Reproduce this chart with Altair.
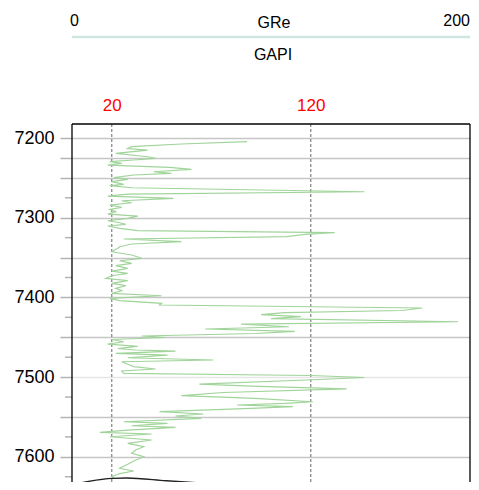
import altair as alt
import pandas as pd

# ---- data ----
depth = [7204.6, 7207.5, 7210.9, 7213.2, 7215.1, 7219.2, 7223.5, 7225.5, 7227.6, 7229.7,
         7231.7, 7233.9, 7236.8, 7239.3, 7242.3, 7244.3, 7246.4, 7249.8, 7251.8, 7254.8,
         7258.1, 7259.8, 7262.4, 7267.4, 7270.3, 7272.8, 7275.7, 7278.7, 7281.2, 7284.1,
         7286.9, 7289.5, 7292.5, 7295.4, 7297.9, 7300.8, 7303.8, 7306.3, 7308.3, 7310.4,
         7313.3, 7316.3, 7318.8, 7320.8, 7323.8, 7326.7, 7330.1, 7333.0, 7336.4, 7338.4,
         7342.7, 7346.8, 7350.9, 7354.0, 7357.2, 7360.2, 7363.5, 7366.9, 7369.8, 7372.8,
         7376.0, 7379.0, 7382.3, 7385.3, 7388.6, 7391.6, 7394.9, 7397.9, 7401.1, 7404.1,
         7407.4, 7409.5, 7413.3, 7416.4, 7419.2, 7421.5, 7424.0, 7426.5, 7430.5, 7433.4,
         7436.8, 7439.6, 7442.5, 7445.3, 7448.4, 7450.3, 7452.8, 7455.6, 7458.5, 7461.4,
         7464.1, 7466.0, 7467.3, 7470.1, 7472.3, 7475.7, 7478.5, 7480.7, 7483.9, 7486.9,
         7489.8, 7492.3, 7495.2, 7498.0, 7500.5, 7503.0, 7508.7, 7511.2, 7514.7, 7519.3,
         7523.1, 7526.6, 7530.9, 7532.9, 7535.0, 7537.1, 7539.1, 7543.4, 7546.3, 7548.8,
         7551.7, 7556.0, 7558.0, 7561.0, 7563.0, 7566.4, 7569.3, 7571.4, 7574.8, 7578.9,
         7583.1, 7587.3, 7591.5, 7595.6, 7599.9, 7605.3, 7609.4, 7614.4, 7617.8, 7621.0,
         7625.0, 7626.6]
gr = [88, 55, 30, 28, 38, 22, 38, 42, 31, 19,
      25, 18, 49, 60, 41, 50, 31, 21, 28, 20,
      26, 19, 30, 147, 28, 18, 51, 25, 30, 19,
      25, 19, 22, 18, 33, 28, 18, 24, 27, 18,
      24, 33, 132, 117, 108, 26, 55, 30, 24, 23,
      20, 30, 35, 24, 30, 22, 28, 20, 28, 20,
      17, 28, 20, 27, 22, 25, 20, 45, 19, 24,
      45, 44, 176, 166, 107, 95, 115, 100, 194, 85,
      109, 67, 112, 92, 35, 47, 20, 26, 18, 33,
      23, 32, 52, 22, 48, 28, 71, 25, 28, 31,
      42, 25, 26, 120, 147, 124, 64, 90, 138, 76,
      55, 92, 121, 107, 83, 111, 90, 44, 66, 52,
      65, 26, 48, 30, 52, 28, 14, 40, 19, 40,
      28, 36, 32, 30, 36, 31, 28, 24, 31, 24,
      20, 21]

arc_gr = [-4.5, 7.5, 20.4, 27.4, 47.3, 80.1, 102.0, 113.4]
arc_depth = [7637.9, 7631.2, 7627.0, 7626.6, 7630.0, 7635.4, 7639.5, 7642.3]

curve_name = "GRe"
curve_unit = "GAPI"
scale_left = 0
scale_right = 200
ref_values = [20, 120]
grid_depths = [7200, 7225, 7250, 7300, 7350, 7400, 7450, 7500, 7550, 7600]
minor_depths = [7275, 7325, 7375, 7425, 7475, 7525, 7575, 7625]
depth_domain = [7182.4, 7631.6]

FONT = "Liberation Sans"
W, H = 398, 358

xs = alt.Scale(domain=[scale_left, scale_right], nice=False, zero=False)
ys = alt.Scale(domain=depth_domain, nice=False, zero=False, reverse=True)

x_axis = alt.Axis(orient="top", values=ref_values, title=None,
                  labelColor="#ff0000", labelFontSize=17, labelFont=FONT,
                  ticks=False, tickSize=0, domain=False, grid=False,
                  labelPadding=10)
y_axis = alt.Axis(values=grid_depths, title=None, format="d",
                  labelExpr="datum.value % 100 == 0 ? datum.label : ''",
                  labelFontSize=18, labelFont=FONT, labelColor="#000000",
                  labelPadding=6, tickSize=12, tickColor="#b4b4b4", tickWidth=1.5,
                  domain=False, grid=True, gridWidth=1.6,
                  gridColor={"condition": {"test": "datum.value === 7500", "value": "#e6e6e6"},
                             "value": "#c6c6c6"})

log_df = pd.DataFrame({"depth": depth, "gr": gr})
arc_df = pd.DataFrame({"gr": arc_gr, "depth": arc_depth})
ref_df = pd.DataFrame({"gr": ref_values})
minor_df = pd.DataFrame({"depth": minor_depths})
edge_df = pd.DataFrame({"gr": [scale_left, scale_right]})
span_df = pd.DataFrame({"gr": [scale_left], "b": [scale_right]})

curve = alt.Chart(log_df).mark_line(color="#a0d49a", strokeWidth=1.2).encode(
    x=alt.X("gr:Q", scale=xs, axis=x_axis),
    y=alt.Y("depth:Q", scale=ys, axis=y_axis),
    order="depth:Q",
)

refs = alt.Chart(ref_df).mark_rule(color="#666666", strokeDash=[3, 2], strokeWidth=1).encode(
    x=alt.X("gr:Q", scale=xs, axis=x_axis)
)

minor = alt.Chart(minor_df).mark_rule(color="#b4b4b4", strokeWidth=1.5, clip=False).encode(
    y=alt.Y("depth:Q", scale=ys, axis=y_axis),
    x=alt.value(-7), x2=alt.value(0),
)

arc = alt.Chart(arc_df).mark_line(color="#222222", strokeWidth=1.4, clip=False,
                                  interpolate="monotone").encode(
    x=alt.X("gr:Q", scale=xs, axis=x_axis),
    y=alt.Y("depth:Q", scale=ys, axis=y_axis),
    order="gr:Q",
)

# frame: left, right and top edges (bottom runs off the page)
edges = alt.Chart(edge_df).mark_rule(color="#000000", strokeWidth=1.3).encode(
    x=alt.X("gr:Q", scale=xs, axis=x_axis)
)
top_edge = alt.Chart(span_df).mark_rule(color="#000000", strokeWidth=1.3).encode(
    x=alt.X("gr:Q", scale=xs, axis=x_axis), x2="b:Q", y=alt.value(0)
)

teal = alt.Chart(span_df).mark_rule(color="#cfe5e1", strokeWidth=2.5).encode(
    x=alt.X("gr:Q", scale=xs, axis=x_axis), x2="b:Q", y=alt.value(-87)
)

def head_text(txt, pos, align, y, dx=0):
    df = pd.DataFrame({"gr": [pos], "t": [txt]})
    return alt.Chart(df).mark_text(font=FONT, fontSize=16, color="#000000",
                                   align=align, baseline="middle", dx=dx).encode(
        x=alt.X("gr:Q", scale=xs, axis=x_axis), y=alt.value(y), text="t:N")

t0 = head_text(str(scale_left), scale_left, "left", -103, -2)
t1 = head_text(curve_name, (scale_left + scale_right) / 2, "center", -101, 3)
t2 = head_text(str(scale_right), scale_right, "right", -103, 0)
t3 = head_text(curve_unit, (scale_left + scale_right) / 2, "center", -69, 2)

chart = alt.layer(refs, minor, curve, arc, edges, top_edge, teal, t0, t1, t2, t3).properties(
    width=W, height=H,
    autosize=alt.AutoSizeParams(type="none"),
    padding={"left": 64, "top": 116, "right": 1, "bottom": 0},
).configure_view(strokeWidth=0)

chart.save("out.html", embed_options={"renderer": "svg", "actions": False})
